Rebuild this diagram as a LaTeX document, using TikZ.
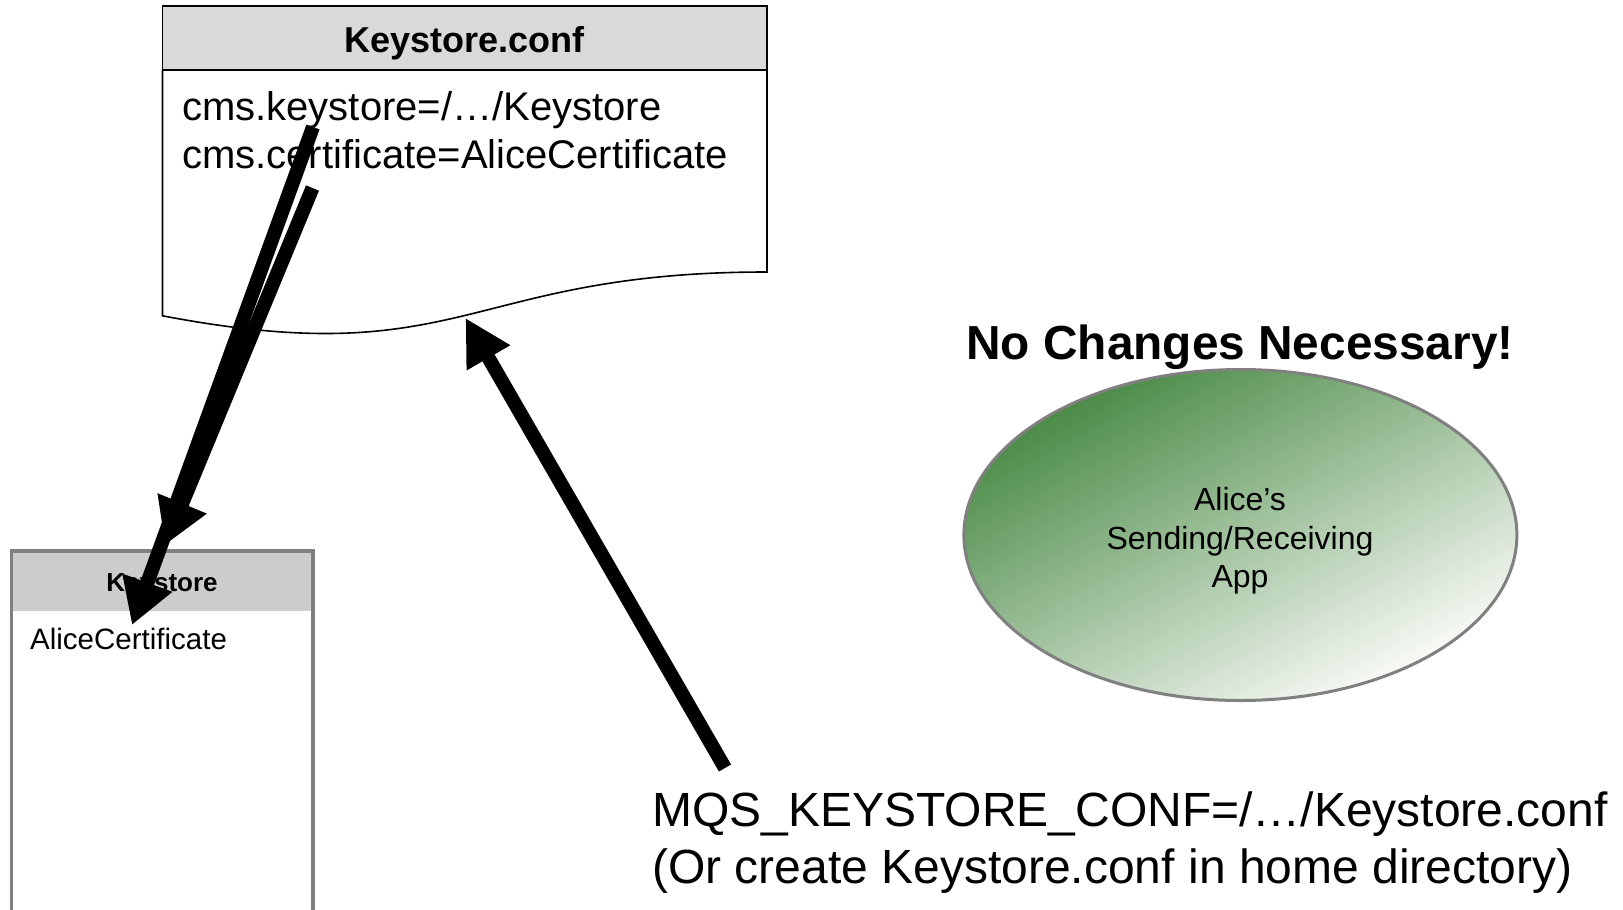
\documentclass[tikz,border=0pt]{standalone}
\usepackage{fontspec}
\setmainfont{Liberation Sans}
\usetikzlibrary{arrows.meta,shapes.geometric}
\definecolor{hdrgray}{RGB}{217,217,217}
\definecolor{ksgray}{RGB}{204,204,204}
\definecolor{ksborder}{RGB}{128,128,128}
\definecolor{appdark}{RGB}{72,137,68}
\definecolor{applight}{RGB}{252,252,250}
\begin{document}
\begin{tikzpicture}[x=1pt,y=-1pt,
  txt/.style={inner sep=0pt, anchor=base west},
  ctxt/.style={inner sep=0pt, anchor=base},
  bigarrow/.style={line width=14pt, line cap=butt, -{Triangle[length=45pt,width=50pt]}},
  docline/.style={line width=1.6pt, draw=black},
  app/.style={ellipse, draw=ksborder, line width=3pt, minimum width=553pt, minimum height=331pt,
    inner sep=0pt, top color=appdark, bottom color=applight, shading angle=28}
]
\useasboundingbox (0,0) rectangle (1623,910);
\fill[white] (0,0) rectangle (1623,910);

% Keystore.conf document
\fill[hdrgray] (162.5,6) rectangle (767,70);
\draw[docline] (162.5,6) rectangle (767,70);
\draw[docline] (162.5,70) -- (162.5,315.8)
  .. controls (464.75,373.4) and (464.75,272) .. (767,272) -- (767,70);
\node[ctxt, font=\fontsize{36}{43}\selectfont\bfseries] (conftitle) at (464.75,52) {Keystore.conf};
\node[txt, font=\fontsize{40}{48}\selectfont] (line1) at (182,120) {cms.keystore=/…/Keystore};
\node[txt, font=\fontsize{40}{48}\selectfont] (line2) at (182,168) {cms.certificate=AliceCertificate};

% Keystore box
\fill[ksgray] (11.5,551) rectangle (313,611);
\draw[ksborder, line width=3.5pt] (11.5,925) -- (11.5,551) -- (313,551) -- (313,925);
\node[ctxt, font=\fontsize{26}{31}\selectfont\bfseries] (kstitle) at (162,591) {Keystore};
\node[txt, font=\fontsize{29.5}{35}\selectfont] (alicecert) at (30,649) {AliceCertificate};

% Application ellipse
\node[ctxt, font=\fontsize{47.8}{57}\selectfont\bfseries] (nochange) at (1240,359) {No Changes Necessary!};
\node[app] (app) at (1240.4,535) {};
\node[inner sep=0pt, align=center, font=\fontsize{32}{38.5}\selectfont] (apptext) at (1240,541) {Alice’s\\Sending/Receiving\\App};

% Bottom text
\node[txt, font=\fontsize{48}{57}\selectfont] (env1) at (652,826) {MQS\_KEYSTORE\_CONF=/…/Keystore.conf};
\node[txt, font=\fontsize{48}{57}\selectfont] (env2) at (652,883) {(Or create Keystore.conf in home directory)};

% Arrow end points
\coordinate (a1s) at (313,127);
\coordinate (a1e) at (132,625);
\coordinate (a2s) at (312.5,188);
\coordinate (a2e) at (165,545);
\coordinate (a3s) at (725,768);
\coordinate (a3e) at (465.5,318);

\draw[bigarrow] (a1s) -- (a1e);
\draw[bigarrow] (a2s) -- (a2e);
\draw[line width=14pt, -{Triangle[length=46pt,width=47pt]}] (a3s) -- (a3e);
\end{tikzpicture}
\end{document}
